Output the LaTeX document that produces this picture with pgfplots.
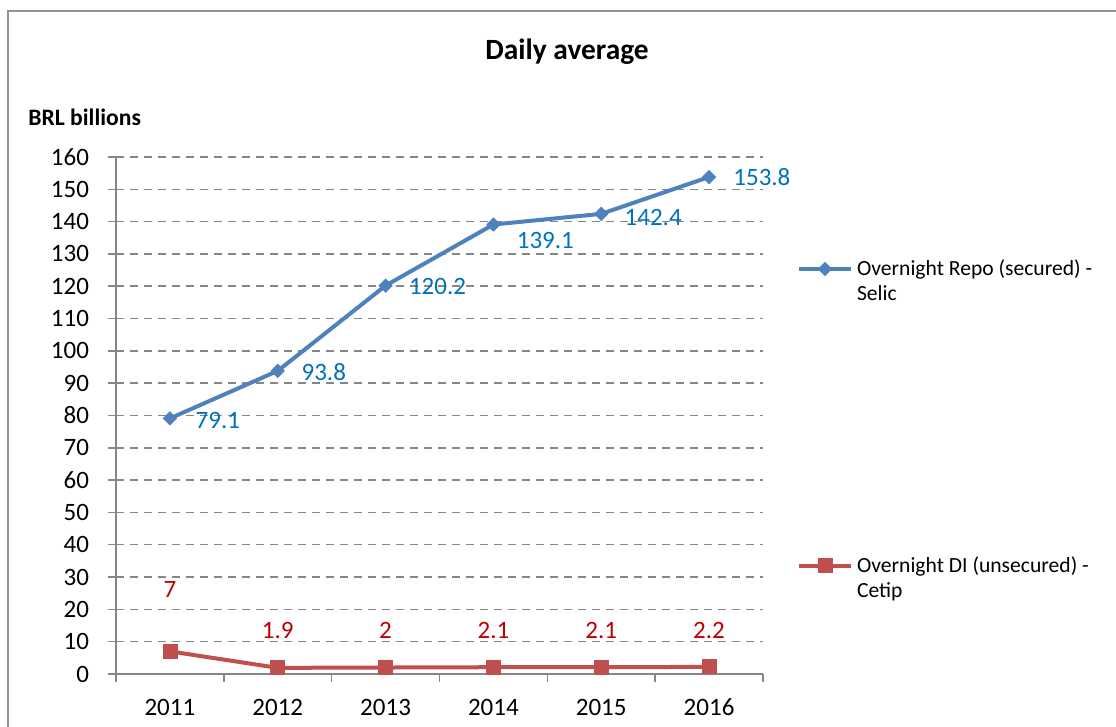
\documentclass[border=0pt]{standalone}
\usepackage{pgfplots}
\pgfplotsset{compat=1.18}
\usepackage{fontspec}
\setmainfont{Carlito}
\definecolor{serblue}{HTML}{4F81BD}
\definecolor{serred}{HTML}{C0504D}
\definecolor{lblblue}{HTML}{0070C0}
\definecolor{lblred}{HTML}{C00000}
\definecolor{gridgray}{HTML}{868686}
\begin{document}
\begin{tikzpicture}
\useasboundingbox (0,0) rectangle (558pt,363.5pt);
\draw[color=gray!85, line width=1pt] (4pt,-3pt) -- (4pt,358pt) -- (562pt,358pt);
\node[font=\fontsize{14.7}{17}\selectfont\bfseries] at (283.5pt,337.5pt) {Daily average};
\node[font=\fontsize{11.8}{14}\selectfont\bfseries, anchor=west, inner sep=0pt] at (14pt,305pt) {BRL billions};
\begin{axis}[
  at={(58pt,26.5pt)}, anchor=south west,
  scale only axis, width=323.5pt, height=258.5pt,
  xmin=-0.5, xmax=5.5, ymin=0, ymax=160,
  ytick={0,10,...,160},
  xtick={-0.5,0.5,...,5.5},
  x tick label as interval,
  xticklabels={2011,2012,2013,2014,2015,2016},
  minor xtick={-0.5,0.5,...,5.5},
  every major x tick/.append style={draw=none},
  axis x line*=bottom, axis y line*=left,
  axis line style={gridgray, line width=0.75pt, -},
  ymajorgrids,
  grid style={gridgray, line width=0.75pt, dash pattern=on 4pt off 3pt},
  tick style={gridgray, line width=0.75pt},
  xtick align=outside, ytick align=center,
  major tick length=8pt, minor tick length=4pt,
  tick label style={font=\fontsize{12.5}{15}\selectfont},
  yticklabel style={xshift=-6pt},
  xticklabel style={yshift=-1pt},
  /pgf/number format/assume math mode=true,
  clip=false,
  legend style={at={(1.052,0.81)}, anchor=north west, draw=none, fill=none,
    inner sep=0pt, row sep=122.5pt, font=\fontsize{10.8}{12.5}\selectfont,
    cells={anchor=west, align=left},
    /tikz/every even column/.append style={column sep=2.5pt}},
  legend image code/.code={\draw[mark repeat=2,mark phase=2,yshift=6.25pt,#1] plot coordinates {(0pt,0pt)(13pt,0pt)(26pt,0pt)};},
]
\addplot[serblue, line width=2pt, mark=diamond*, mark size=3.3pt,
  mark options={solid, fill=serblue, line width=0.4pt, xscale=1.33}]
  coordinates {(0,79.1)(1,93.8)(2,120.2)(3,139.1)(4,142.4)(5,153.8)};
\addlegendentry{Overnight Repo (secured) -\\Selic}
\addplot[serred, line width=2pt, mark=square*, mark size=3.5pt,
  mark options={solid, fill=serred, line width=0.4pt}]
  coordinates {(0,7)(1,1.9)(2,2)(3,2.1)(4,2.1)(5,2.2)};
\addlegendentry{Overnight DI (unsecured) -\\Cetip}
\addplot[draw=none, mark=none, forget plot, nodes near coords, point meta=explicit symbolic,
  every node near coord/.append style={lblblue, anchor=center, inner sep=0pt, font=\fontsize{12.5}{15}\selectfont}]
  coordinates {(0.445,78.6)[79.1] (1.427,93.5)[93.8] (2.482,119.8)[120.2] (3.482,134.3)[139.1] (4.482,141.4)[142.4] (5.49,153.8)[153.8]};
\addplot[draw=none, mark=none, forget plot, nodes near coords, point meta=explicit symbolic,
  every node near coord/.append style={lblred, anchor=center, inner sep=0pt, font=\fontsize{12.5}{15}\selectfont}]
  coordinates {(0,26.0)[7] (1,13.6)[1.9] (2,13.6)[2] (3,13.6)[2.1] (4,13.6)[2.1] (5,13.6)[2.2]};
\end{axis}
\end{tikzpicture}
\end{document}
